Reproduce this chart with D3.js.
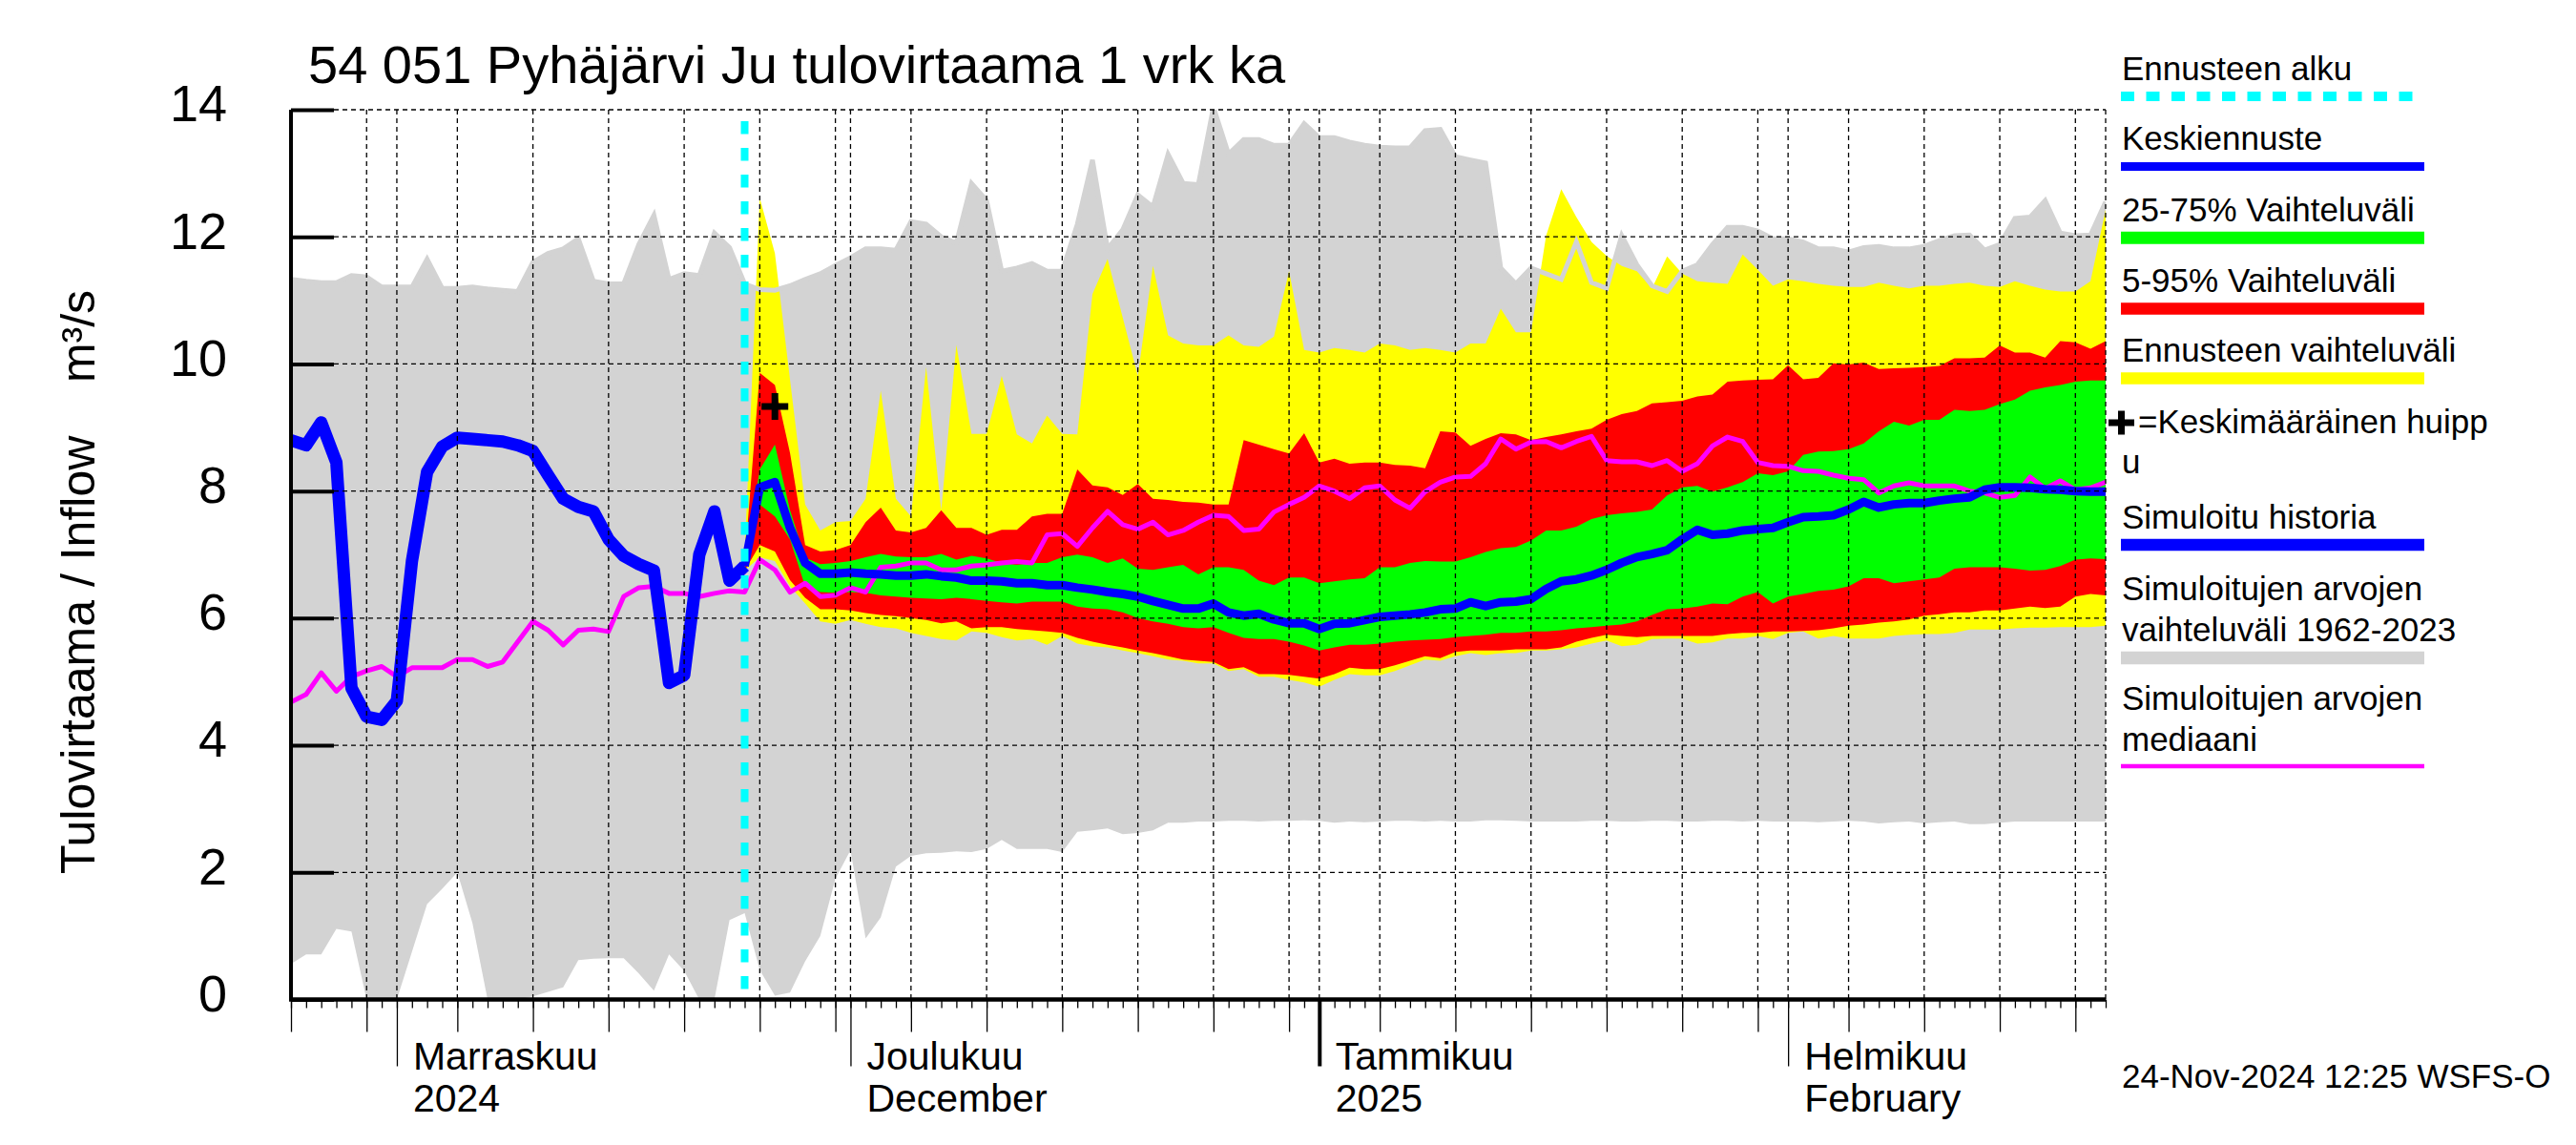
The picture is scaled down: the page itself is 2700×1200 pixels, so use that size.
<!DOCTYPE html>
<html>
<head>
<meta charset="utf-8">
<script src="https://d3js.org/d3.v7.min.js"></script>
<style>
  body { margin: 0; background: #fff; }
  text { font-family: "Liberation Sans", Arial, Helvetica, sans-serif; fill: #000; }
</style>
</head>
<body>
<svg id="chart"></svg>
<script>
// time axis: one value per day
const firstDay = new Date(2024, 9, 25);
const lastDay = new Date(2025, 1, 22);
const forecastDay = new Date(2024, 10, 24);

const monthLabels = [
  { date: new Date(2024, 10, 1), l1: 'Marraskuu', l2: '2024' },
  { date: new Date(2024, 11, 1), l1: 'Joulukuu', l2: 'December' },
  { date: new Date(2025, 0, 1), l1: 'Tammikuu', l2: '2025' },
  { date: new Date(2025, 1, 1), l1: 'Helmikuu', l2: 'February' },
];
const yTicks = [0, 2, 4, 6, 8, 10, 12, 14];

// simulated range 1962-2023 (from Oct 25)
const greyMax = [
  11.33, 11.30, 11.28, 11.28, 11.39, 11.37, 11.21, 11.21, 11.21, 11.65,
  11.19, 11.19, 11.21, 11.18, 11.16, 11.14, 11.60, 11.74, 11.81, 11.97,
  11.30, 11.26, 11.26, 11.88, 12.34, 11.33, 11.42, 11.39, 12.06, 11.83,
  11.26, 11.17, 11.16, 11.23, 11.33, 11.42, 11.55, 11.67, 11.81, 11.81,
  11.79, 12.24, 12.20, 12.00, 11.90, 12.84, 12.57, 11.46, 11.51, 11.58,
  11.46, 11.46, 12.20, 13.21, 11.81, 12.11, 12.66, 12.47, 13.30, 12.84,
  12.82, 14.04, 13.30, 13.53, 13.53, 13.44, 13.44, 13.78, 13.56, 13.56,
  13.49, 13.44, 13.41, 13.40, 13.40, 13.67, 13.69, 13.26, 13.21, 13.16,
  11.51, 11.26, 11.51, 11.42, 11.33, 11.92, 11.28, 11.19, 12.02, 11.56,
  11.23, 11.14, 11.46, 11.56, 11.88, 12.15, 12.15, 12.09, 11.97, 11.97,
  11.92, 11.81, 11.81, 11.76, 11.83, 11.85, 11.81, 11.81, 11.85, 11.94,
  12.02, 12.03, 11.79, 11.88, 12.29, 12.31, 12.57, 12.06, 12.02, 12.03,
  12.55,
];
const greyMin = [
  0.56, 0.71, 0.71, 1.11, 1.07, 0, 0, 0, 0.75, 1.50,
  1.74, 2.00, 1.20, 0, 0, 0, 0.05, 0.12, 0.19, 0.62,
  0.64, 0.65, 0.65, 0.41, 0.14, 0.71, 0.45, 0, 0, 1.25,
  1.36, 0.46, 0.06, 0.11, 0.60, 1.00, 1.90, 2.35, 0.96, 1.29,
  2.09, 2.26, 2.30, 2.31, 2.33, 2.32, 2.37, 2.51, 2.37, 2.37,
  2.37, 2.32, 2.64, 2.66, 2.69, 2.60, 2.62, 2.66, 2.78, 2.78,
  2.80, 2.80, 2.81, 2.81, 2.80, 2.81, 2.81, 2.82, 2.81, 2.78,
  2.80, 2.79, 2.80, 2.81, 2.81, 2.80, 2.81, 2.80, 2.80, 2.82,
  2.82, 2.81, 2.80, 2.80, 2.80, 2.80, 2.81, 2.81, 2.80, 2.80,
  2.81, 2.81, 2.80, 2.80, 2.81, 2.81, 2.80, 2.81, 2.80, 2.80,
  2.80, 2.79, 2.80, 2.81, 2.80, 2.77, 2.79, 2.80, 2.77, 2.79,
  2.80, 2.76, 2.76, 2.78, 2.80, 2.80, 2.80, 2.80, 2.80, 2.80,
  2.80,
];
const median = [
  4.68, 4.80, 5.14, 4.85, 5.08, 5.17, 5.24, 5.08, 5.22, 5.22,
  5.22, 5.35, 5.35, 5.24, 5.31, 5.63, 5.95, 5.81, 5.58, 5.81,
  5.83, 5.79, 6.34, 6.48, 6.50, 6.39, 6.39, 6.34, 6.39, 6.43,
  6.41, 6.92, 6.76, 6.41, 6.55, 6.34, 6.36, 6.48, 6.41, 6.80,
  6.82, 6.87, 6.87, 6.76, 6.76, 6.82, 6.84, 6.87, 6.89, 6.87,
  7.31, 7.33, 7.13, 7.42, 7.68, 7.47, 7.40, 7.51, 7.31, 7.38,
  7.51, 7.62, 7.60, 7.38, 7.40, 7.67, 7.79, 7.90, 8.08, 8.00,
  7.88, 8.05, 8.08, 7.86, 7.73, 7.99, 8.14, 8.22, 8.23, 8.43,
  8.82, 8.66, 8.77, 8.78, 8.68, 8.78, 8.86, 8.48, 8.46, 8.46,
  8.40, 8.48, 8.31, 8.43, 8.71, 8.85, 8.78, 8.45, 8.40, 8.39,
  8.32, 8.31, 8.25, 8.20, 8.18, 7.97, 8.08, 8.13, 8.08, 8.08,
  8.08, 8.00, 7.97, 7.90, 7.93, 8.22, 8.04, 8.16, 8.02, 8.05,
  8.14,
];
// simulated history, Oct 25 - Nov 24
const history = [
  8.80, 8.72, 9.08, 8.45, 4.90, 4.45, 4.40, 4.70, 6.90, 8.30,
  8.70, 8.84, 8.82, 8.80, 8.78, 8.72, 8.63, 8.25, 7.88, 7.75,
  7.68, 7.24, 6.98, 6.85, 6.75, 4.98, 5.10, 7.00, 7.68, 6.59,
  6.82,
];

// forecast, Nov 24 - Feb 22
const forecastMean = [
  6.82, 8.06, 8.14, 7.42, 6.87, 6.70, 6.70, 6.72, 6.70, 6.69,
  6.67, 6.67, 6.69, 6.66, 6.64, 6.59, 6.59, 6.58, 6.55, 6.55,
  6.52, 6.52, 6.48, 6.45, 6.41, 6.38, 6.34, 6.27, 6.21, 6.15,
  6.15, 6.23, 6.09, 6.04, 6.07, 5.98, 5.92, 5.92, 5.83, 5.91,
  5.92, 5.97, 6.02, 6.04, 6.06, 6.09, 6.14, 6.15, 6.25, 6.19,
  6.25, 6.26, 6.30, 6.46, 6.58, 6.61, 6.67, 6.76, 6.87, 6.96,
  7.01, 7.07, 7.24, 7.39, 7.31, 7.33, 7.38, 7.40, 7.42, 7.51,
  7.59, 7.60, 7.62, 7.71, 7.83, 7.74, 7.79, 7.81, 7.81, 7.85,
  7.88, 7.90, 8.02, 8.06, 8.06, 8.05, 8.03, 8.02, 8.00, 7.99,
  7.99,
];
const p75 = [
  6.85, 8.34, 8.73, 7.70, 6.95, 6.85, 6.87, 6.90, 6.96, 7.01,
  6.97, 6.96, 6.96, 7.01, 6.92, 6.98, 6.94, 6.87, 6.84, 6.87,
  6.87, 6.96, 7.00, 6.96, 6.87, 6.94, 6.78, 6.76, 6.80, 6.84,
  6.69, 6.80, 6.80, 6.76, 6.59, 6.52, 6.64, 6.64, 6.55, 6.58,
  6.61, 6.63, 6.80, 6.80, 6.87, 6.90, 6.89, 6.89, 6.96, 7.04,
  7.10, 7.12, 7.22, 7.38, 7.38, 7.44, 7.56, 7.62, 7.65, 7.67,
  7.71, 7.93, 8.06, 8.08, 7.99, 8.06, 8.14, 8.28, 8.25, 8.31,
  8.57, 8.62, 8.63, 8.66, 8.75, 8.94, 9.09, 9.03, 9.12, 9.12,
  9.28, 9.26, 9.28, 9.37, 9.44, 9.58, 9.63, 9.67, 9.72, 9.74,
  9.74,
];
const p25 = [
  6.78, 7.79, 7.60, 7.24, 6.50, 6.41, 6.40, 6.41, 6.40, 6.36,
  6.34, 6.32, 6.31, 6.30, 6.32, 6.30, 6.27, 6.25, 6.23, 6.26,
  6.26, 6.26, 6.18, 6.15, 6.14, 6.09, 6.00, 5.95, 5.91, 5.86,
  5.84, 5.86, 5.77, 5.69, 5.67, 5.67, 5.63, 5.57, 5.49, 5.54,
  5.58, 5.58, 5.60, 5.63, 5.65, 5.66, 5.67, 5.70, 5.72, 5.74,
  5.77, 5.77, 5.79, 5.79, 5.81, 5.84, 5.86, 5.88, 5.90, 5.95,
  6.05, 6.14, 6.15, 6.18, 6.23, 6.22, 6.34, 6.41, 6.23, 6.34,
  6.38, 6.43, 6.45, 6.50, 6.63, 6.63, 6.55, 6.58, 6.61, 6.64,
  6.78, 6.80, 6.80, 6.80, 6.78, 6.75, 6.76, 6.82, 6.92, 6.94,
  6.93,
];
const p95 = [
  6.90, 9.86, 9.67, 8.60, 7.15, 7.05, 7.07, 7.15, 7.51, 7.74,
  7.38, 7.35, 7.42, 7.70, 7.42, 7.42, 7.31, 7.39, 7.39, 7.60,
  7.64, 7.64, 8.34, 8.09, 8.06, 7.94, 8.11, 7.88, 7.86, 7.83,
  7.82, 7.79, 7.79, 8.80, 8.73, 8.66, 8.59, 8.91, 8.45, 8.51,
  8.43, 8.45, 8.45, 8.41, 8.40, 8.36, 8.94, 8.92, 8.71, 8.82,
  8.91, 8.89, 8.80, 8.85, 8.89, 8.94, 8.98, 9.12, 9.21, 9.26,
  9.38, 9.40, 9.42, 9.49, 9.52, 9.72, 9.74, 9.75, 9.76, 9.98,
  9.76, 9.78, 10.01, 9.99, 10.02, 9.92, 9.93, 9.94, 9.95, 9.97,
  10.09, 10.09, 10.10, 10.29, 10.18, 10.18, 10.10, 10.36, 10.34, 10.24,
  10.36,
];
const p5 = [
  6.75, 7.15, 7.05, 6.60, 6.32, 6.14, 6.14, 6.12, 6.08, 6.05,
  6.03, 6.00, 5.97, 5.92, 5.95, 5.84, 5.86, 5.86, 5.83, 5.81,
  5.79, 5.77, 5.69, 5.63, 5.58, 5.54, 5.49, 5.45, 5.40, 5.35,
  5.33, 5.31, 5.20, 5.23, 5.12, 5.12, 5.11, 5.08, 5.05, 5.12,
  5.22, 5.20, 5.20, 5.26, 5.33, 5.40, 5.37, 5.47, 5.49, 5.49,
  5.49, 5.51, 5.51, 5.51, 5.54, 5.63, 5.69, 5.74, 5.72, 5.70,
  5.72, 5.72, 5.72, 5.72, 5.72, 5.75, 5.77, 5.77, 5.79, 5.79,
  5.80, 5.81, 5.84, 5.88, 5.90, 5.93, 5.95, 5.98, 6.04, 6.06,
  6.09, 6.09, 6.12, 6.12, 6.15, 6.18, 6.16, 6.18, 6.34, 6.38,
  6.36,
];
const ensMax = [
  7.00, 12.61, 11.74, 9.75, 7.79, 7.38, 7.51, 7.53, 7.88, 9.58,
  7.88, 7.60, 9.95, 7.70, 10.30, 8.90, 8.90, 9.81, 8.89, 8.75,
  9.19, 8.90, 8.89, 11.10, 11.65, 10.73, 9.81, 11.54, 10.45, 10.32,
  10.29, 10.29, 10.45, 10.29, 10.27, 10.43, 11.46, 10.22, 10.18, 10.25,
  10.22, 10.18, 10.32, 10.29, 10.22, 10.25, 10.22, 10.18, 10.32, 10.32,
  10.87, 10.50, 10.50, 12.02, 12.75, 12.31, 11.92, 11.70, 11.54, 11.46,
  11.19, 11.69, 11.42, 11.30, 11.28, 11.26, 11.72, 11.48, 11.23, 11.33,
  11.30, 11.26, 11.23, 11.21, 11.21, 11.28, 11.23, 11.19, 11.23, 11.23,
  11.26, 11.28, 11.23, 11.21, 11.30, 11.23, 11.17, 11.14, 11.14, 11.30,
  12.43,
];
const ensMin = [
  6.75, 6.96, 6.90, 6.50, 6.23, 5.95, 5.91, 5.97, 5.91, 5.86,
  5.84, 5.77, 5.72, 5.67, 5.65, 5.79, 5.77, 5.70, 5.65, 5.67,
  5.58, 5.72, 5.60, 5.56, 5.54, 5.49, 5.45, 5.40, 5.35, 5.33,
  5.29, 5.29, 5.17, 5.20, 5.08, 5.08, 5.03, 4.99, 4.92, 5.03,
  5.12, 5.10, 5.10, 5.17, 5.26, 5.35, 5.33, 5.40, 5.45, 5.42,
  5.45, 5.45, 5.49, 5.49, 5.51, 5.54, 5.60, 5.65, 5.56, 5.58,
  5.67, 5.68, 5.68, 5.60, 5.62, 5.68, 5.68, 5.72, 5.67, 5.77,
  5.79, 5.68, 5.72, 5.68, 5.68, 5.68, 5.72, 5.74, 5.75, 5.75,
  5.77, 5.82, 5.82, 5.82, 5.84, 5.85, 5.85, 5.86, 5.86, 5.86,
  5.88,
];
const peakMarker = { date: new Date(2024, 10, 26), value: 9.33 };

const legendItems = [
  { label: ['Ennusteen alku'], color: '#00ffff', width: 10, dash: '14,12.5' },
  { label: ['Keskiennuste'], color: '#0000ff', width: 9 },
  { label: ['25-75% Vaihteluväli'], color: '#00ff00', width: 13 },
  { label: ['5-95% Vaihteluväli'], color: '#ff0000', width: 12.5 },
  { label: ['Ennusteen vaihteluväli'], color: '#ffff00', width: 12.5 },
  { label: ['=Keskimääräinen huipp', 'u'], plus: true },
  { label: ['Simuloitu historia'], color: '#0000ff', width: 12.5 },
  { label: ['Simuloitujen arvojen', 'vaihteluväli 1962-2023'], color: '#d3d3d3', width: 13.5 },
  { label: ['Simuloitujen arvojen', 'mediaani'], color: '#ff00ff', width: 4.5 },
];

// ---- layout
const W = 2700;
const H = 1200;
const plot = { left: 305, right: 2207, top: 115, bottom: 1047.5 };

const svg = d3.select('#chart').attr('width', W).attr('height', H);
svg.append('rect').attr('width', W).attr('height', H).attr('fill', '#fff');

const x = d3.scaleTime().domain([firstDay, lastDay]).range([plot.left, plot.right]);
const y = d3.scaleLinear().domain([0, 14]).range([plot.bottom, plot.top]);

const toPoints = (values, start) => values.map((v, i) => ({ date: d3.timeDay.offset(start, i), v }));
const toBand = (lo, hi, start) => lo.map((v, i) => ({ date: d3.timeDay.offset(start, i), lo: v, hi: hi[i] }));

const area = d3.area().x(d => x(d.date)).y0(d => y(d.lo)).y1(d => y(d.hi));
const line = d3.line().x(d => x(d.date)).y(d => y(d.v));

svg.append('clipPath').attr('id', 'plotClip')
  .append('rect')
  .attr('x', plot.left).attr('y', plot.top)
  .attr('width', plot.right - plot.left).attr('height', plot.bottom - plot.top);

const g = svg.append('g').attr('clip-path', 'url(#plotClip)');

// bands
g.append('path').datum(toBand(greyMin, greyMax, firstDay)).attr('d', area).attr('fill', '#d3d3d3');
g.append('path').datum(toBand(ensMin, ensMax, forecastDay)).attr('d', area).attr('fill', '#ffff00');
// upper edge of the historic range shows through the yellow
g.append('path').datum(toPoints(greyMax, firstDay)).attr('d', line)
  .attr('fill', 'none').attr('stroke', '#d3d3d3').attr('stroke-width', 5);
g.append('path').datum(toBand(p5, p95, forecastDay)).attr('d', area).attr('fill', '#ff0000');
g.append('path').datum(toBand(p25, p75, forecastDay)).attr('d', area).attr('fill', '#00ff00');

// grid
const allDays = d3.timeDay.range(firstDay, d3.timeDay.offset(lastDay, 1));
const fiveDays = allDays.filter(d => d.getDate() % 5 === 0);
const monthStarts = d3.timeMonth.range(firstDay, lastDay);
const gridDays = fiveDays.concat(monthStarts, [lastDay]).filter(d => +d !== +firstDay);

const grid = svg.append('g')
  .attr('stroke', '#000').attr('stroke-width', 1.3).attr('stroke-dasharray', '5,4');
grid.selectAll('.vgrid').data(gridDays).join('line')
  .attr('x1', d => x(d)).attr('x2', d => x(d))
  .attr('y1', plot.top).attr('y2', plot.bottom);
grid.selectAll('.hgrid').data(yTicks.filter(v => v > 0)).join('line')
  .attr('x1', plot.left).attr('x2', plot.right)
  .attr('y1', d => y(d)).attr('y2', d => y(d));

// lines
g.append('path').datum(toPoints(median, firstDay)).attr('d', line)
  .attr('fill', 'none').attr('stroke', '#ff00ff').attr('stroke-width', 5)
  .attr('stroke-linejoin', 'round');
g.append('path').datum(toPoints(history, firstDay)).attr('d', line)
  .attr('fill', 'none').attr('stroke', '#0000ff').attr('stroke-width', 13)
  .attr('stroke-linejoin', 'round');
g.append('path').datum(toPoints(forecastMean, forecastDay)).attr('d', line)
  .attr('fill', 'none').attr('stroke', '#0000ff').attr('stroke-width', 9)
  .attr('stroke-linejoin', 'round');

// forecast start
svg.append('line')
  .attr('x1', x(forecastDay)).attr('x2', x(forecastDay))
  .attr('y1', plot.top + 12).attr('y2', plot.bottom)
  .attr('stroke', '#00ffff').attr('stroke-width', 8).attr('stroke-dasharray', '13.5,14.5');

// mean peak marker
const px = x(peakMarker.date);
const py = y(peakMarker.value);
svg.append('path')
  .attr('d', `M${px - 14},${py}H${px + 14}M${px},${py - 14}V${py + 14}`)
  .attr('stroke', '#000').attr('stroke-width', 7);

// y axis: inward ticks, labels far left
const yAxis = svg.append('g')
  .attr('transform', `translate(${plot.left},0)`)
  .call(d3.axisLeft(y).tickValues(yTicks).tickSizeInner(-45).tickSizeOuter(0).tickPadding(67));
yAxis.select('.domain').remove();
yAxis.selectAll('.tick line').attr('stroke', '#000').attr('stroke-width', 4);
yAxis.selectAll('.tick text')
  .attr('font-size', 54).attr('font-family', '"Liberation Sans", Arial, sans-serif')
  .attr('dy', '0.22em');
svg.append('line')
  .attr('x1', plot.left).attr('x2', plot.left)
  .attr('y1', plot.top).attr('y2', plot.bottom)
  .attr('stroke', '#000').attr('stroke-width', 4);

// x axis ticks: every day, every 5th day, month starts
const tickAxis = (values, size, width) => {
  const a = svg.append('g')
    .attr('transform', `translate(0,${plot.bottom})`)
    .call(d3.axisBottom(x).tickValues(values).tickSize(size).tickSizeOuter(0).tickFormat(''));
  a.select('.domain').remove();
  a.selectAll('.tick line').attr('stroke', '#000').attr('stroke-width', width);
  return a;
};
tickAxis(allDays, 9, 1.3);
tickAxis(fiveDays, 34, 1.3);
const monthAxis = tickAxis(monthStarts, 70, 1.3);
monthAxis.selectAll('.tick line')
  .attr('stroke-width', d => (d.getMonth() === 0 ? 4 : 1.3));

svg.append('line')
  .attr('x1', plot.left - 2).attr('x2', plot.right)
  .attr('y1', plot.bottom).attr('y2', plot.bottom)
  .attr('stroke', '#000').attr('stroke-width', 4.5);

const mLab = svg.append('g').attr('font-size', 41);
monthLabels.forEach((m) => {
  mLab.append('text').attr('x', x(m.date) + 17).attr('y', 1121).text(m.l1);
  mLab.append('text').attr('x', x(m.date) + 17).attr('y', 1165).text(m.l2);
});

// titles
svg.append('text').attr('x', 323).attr('y', 87).attr('font-size', 56)
  .text('54 051 Pyhäjärvi Ju tulovirtaama 1 vrk ka');
svg.append('text')
  .attr('transform', 'translate(99,610) rotate(-90)')
  .attr('text-anchor', 'middle').attr('font-size', 50)
  .style('white-space', 'pre')
  .text('Tulovirtaama / Inflow    m³/s');

// legend
const lg = svg.append('g').attr('font-size', 35);
const legendX = 2224;
const legendLineEnd = 2541;
const legendTops = [83.6, 157, 231.8, 306, 379, 453.6, 553.6, 629.4, 744];
legendItems.forEach((item, i) => {
  const base = legendTops[i];
  item.label.forEach((t, k) => {
    lg.append('text')
      .attr('x', item.plus && k === 0 ? 2241 : legendX)
      .attr('y', base + k * 42.5)
      .text(t);
  });
  if (item.plus) {
    lg.append('path')
      .attr('d', `M2210,443H2237M2223.5,430.5V455.5`)
      .attr('stroke', '#000').attr('stroke-width', 7);
    return;
  }
  const ly = base + (item.label.length - 1) * 42.5 + (item.width > 6 ? 17.5 : 16.5);
  lg.append('line')
    .attr('x1', 2223).attr('x2', legendLineEnd)
    .attr('y1', ly).attr('y2', ly)
    .attr('stroke', item.color).attr('stroke-width', item.width)
    .attr('stroke-dasharray', item.dash || null);
});

svg.append('text').attr('x', 2224).attr('y', 1139.5).attr('font-size', 35)
  .text('24-Nov-2024 12:25 WSFS-O');
</script>
</body>
</html>
